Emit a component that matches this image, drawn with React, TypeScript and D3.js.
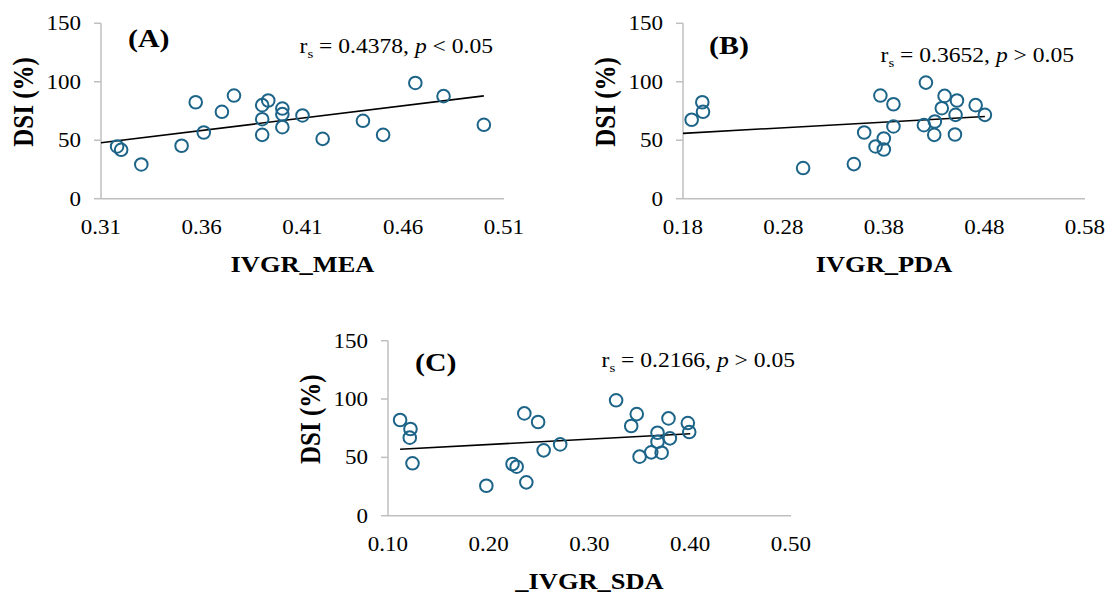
import React from "react";
import * as d3 from "d3";

// ---------- data ----------
const yTicks = [0, 50, 100, 150];

const aTicks = [0.31, 0.36, 0.41, 0.46, 0.51];
const aX = [0.318, 0.32, 0.33, 0.35, 0.357, 0.361, 0.37, 0.376, 0.39, 0.39, 0.39, 0.393, 0.4, 0.4, 0.4, 0.41, 0.42, 0.44, 0.45, 0.466, 0.48, 0.5];
const aY = [44.7, 41.8, 29.3, 45.3, 82.5, 56.6, 74.3, 88.2, 80, 68, 54.6, 84, 77.1, 72.3, 61.2, 71.2, 51.2, 66.6, 54.6, 99, 87.7, 63.2];
const aTrendX = [0.31, 0.5];
const aTrendY = [47.8, 87.9];

const bTicks = [0.18, 0.28, 0.38, 0.48, 0.58];
const bX = [0.1886, 0.1992, 0.1999, 0.2995, 0.35, 0.3603, 0.3716, 0.3764, 0.3798, 0.3798, 0.3894, 0.3894, 0.4217, 0.4197, 0.43, 0.4306, 0.4375, 0.4403, 0.4512, 0.4526, 0.4506, 0.4712, 0.4804];
const bY = [67.5, 82.5, 74.3, 26.2, 29.6, 56.6, 44.7, 88.2, 42.1, 51.5, 80.8, 61.8, 99.3, 62.9, 54.6, 66, 77.4, 87.9, 71.7, 84, 54.9, 80, 71.7];
const bTrendX = [0.18, 0.4804];
const bTrendY = [55.9, 70.3];

const cTicks = [0.1, 0.2, 0.3, 0.4, 0.5];
const cX = [0.112, 0.1223, 0.1216, 0.1243, 0.1976, 0.2236, 0.2277, 0.2373, 0.2353, 0.249, 0.2545, 0.2709, 0.3264, 0.3414, 0.3469, 0.3497, 0.3613, 0.3675, 0.3675, 0.3716, 0.3784, 0.3798, 0.3976, 0.399];
const cY = [82, 74.3, 66.9, 44.9, 25.7, 44.3, 42, 28.6, 87.7, 80.3, 56, 61.1, 98.9, 76.9, 87.1, 50.6, 54.3, 71.1, 63.4, 54, 83.4, 66.3, 79.4, 71.7];
const cTrendX = [0.112, 0.4];
const cTrendY = [56.9, 70.3];

const panelLabels = ["(A)", "(B)", "(C)"];
const xTitles = ["IVGR_MEA", "IVGR_PDA", "_IVGR_SDA"];
const rValues = ["0.4378", "0.3652", "0.2166"];
const pRelations = ["<", ">", ">"];
const yTitle = "DSI (%)";

// ---------- style ----------
const FONT = "'Liberation Serif', 'Times New Roman', serif";
const SX = 1.15; // horizontal stretch of the original figure
const POINT = "#1d6489";
const AXIS = "#bfbfbf";

type Layout = {
  left: number; right: number; top: number; bottom: number;
  label: [number, number]; annot: [number, number];
};

const layouts: Layout[] = [
  { left: 101, right: 504, top: 23.3, bottom: 198.7, label: [128, 46.5], annot: [493, 53] },
  { left: 683, right: 1085, top: 23.3, bottom: 198.7, label: [709, 53.5], annot: [1074, 61.5] },
  { left: 388, right: 791, top: 340.7, bottom: 515.7, label: [415, 370.5], annot: [795, 366.5] },
];

const seriesX = [aX, bX, cX];
const seriesY = [aY, bY, cY];
const trendsX = [aTrendX, bTrendX, cTrendX];
const trendsY = [aTrendY, bTrendY, cTrendY];
const xTickSets = [aTicks, bTicks, cTicks];

function ST(props: { x: number; y: number; children: React.ReactNode; anchor?: string; size: number; weight?: string; rotate?: boolean }) {
  const { x, y, children, anchor = "middle", size, weight = "normal", rotate } = props;
  return (
    <g transform={`translate(${x},${y}) scale(${SX},1)${rotate ? " rotate(-90)" : ""}`}>
      <text textAnchor={anchor} fontFamily={FONT} fontSize={size} fontWeight={weight} fill="#000">
        {children}
      </text>
    </g>
  );
}

function Panel({ i }: { i: number }) {
  const L = layouts[i];
  const ticks = xTickSets[i];
  const x = d3.scaleLinear().domain([ticks[0], ticks[ticks.length - 1]]).range([L.left, L.right]);
  const y = d3.scaleLinear().domain([0, 150]).range([L.bottom, L.top]);
  const xs = seriesX[i];
  const ys = seriesY[i];
  const line = d3.line<number>().x((_, k) => x(trendsX[i][k])).y((v) => y(v));
  const midY = (L.top + L.bottom) / 2 - 9;
  return (
    <g>
      {/* y axis */}
      <line x1={L.left} x2={L.left} y1={y(150)} y2={y(0)} stroke={AXIS} strokeWidth={1.5} />
      {yTicks.map((t) => (
        <g key={t}>
          <line x1={L.left - 7} x2={L.left} y1={y(t)} y2={y(t)} stroke={AXIS} strokeWidth={1.5} />
          <ST x={L.left - 20} y={y(t) + 7} anchor="end" size={20}>{t}</ST>
        </g>
      ))}
      {/* x axis */}
      <line x1={L.left} x2={L.right} y1={y(0)} y2={y(0)} stroke={AXIS} strokeWidth={1.5} />
      {ticks.map((t) => (
        <ST key={t} x={x(t)} y={L.bottom + 35.5} size={20}>{t.toFixed(2)}</ST>
      ))}
      {/* titles */}
      <ST x={(L.left + L.right) / 2} y={L.bottom + 73} size={23} weight="bold">{xTitles[i]}</ST>
      <ST x={L.left - 68} y={midY} size={25} weight="bold" rotate>{yTitle}</ST>
      <ST x={L.label[0]} y={L.label[1]} anchor="start" size={26} weight="bold">{panelLabels[i]}</ST>
      <g transform={`translate(${L.annot[0]},${L.annot[1]}) scale(${SX},1)`}>
        <text textAnchor="end" fontFamily={FONT} fontSize={20.5} fill="#000">
          r<tspan fontSize={13} dy={5}>s</tspan>
          <tspan dy={-5}> = {rValues[i]}, </tspan>
          <tspan fontStyle="italic">p</tspan>
          <tspan> {pRelations[i]} 0.05</tspan>
        </text>
      </g>
      {/* trend line */}
      <path d={line(trendsY[i]) || ""} fill="none" stroke="#000" strokeWidth={1.6} />
      {/* points */}
      {xs.map((v, k) => (
        <circle key={k} cx={x(v)} cy={y(ys[k])} r={6.3} fill="none" stroke={POINT} strokeWidth={2} />
      ))}
    </g>
  );
}

export default function App() {
  return (
    <svg
      width={1111}
      height={594}
      viewBox="0 0 1111 594"
      style={{ position: "absolute", left: 0, top: 0, display: "block", background: "#fff" }}
    >
      <rect width={1111} height={594} fill="#fff" />
      {[0, 1, 2].map((i) => (
        <Panel key={i} i={i} />
      ))}
    </svg>
  );
}
